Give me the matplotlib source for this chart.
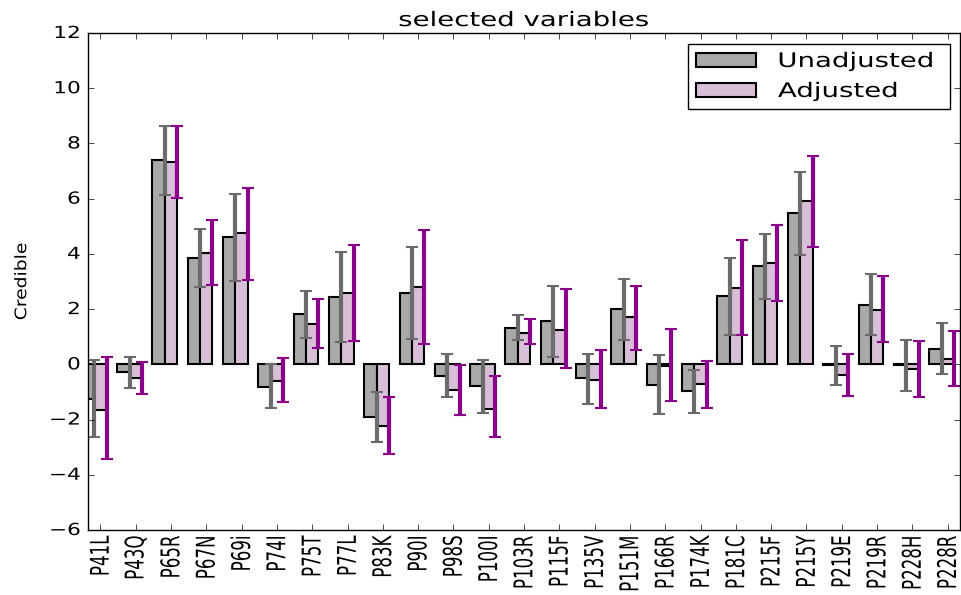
import numpy as np
import matplotlib
matplotlib.use("Agg")
import matplotlib.pyplot as plt
from matplotlib.patheffects import AbstractPathEffect
from matplotlib.transforms import Affine2D

plt.style.use("classic")

# Mutaciones y valores estimados
etiquetas = ["P41L", "P43Q", "P65R", "P67N", "P69i", "P74I", "P75T", "P77L", "P83K",
             "P90I", "P98S", "P100I", "P103R", "P115F", "P135V", "P151M", "P166R",
             "P174K", "P181C", "P215F", "P215Y", "P219E", "P219R", "P228H", "P228R"]

sin_ajuste = [-1.24, -0.29, 7.39, 3.86, 4.60, -0.82, 1.81, 2.44, -1.91,
              2.59, -0.41, -0.79, 1.33, 1.57, -0.51, 2.01, -0.73,
              -0.96, 2.47, 3.56, 5.48, -0.03, 2.16, -0.03, 0.57]
sin_ajuste_inf = [-2.62, -0.86, 6.14, 2.81, 3.01, -1.58, 0.97, 0.80, -2.81,
                  0.92, -1.20, -1.76, 0.88, 0.27, -1.42, 0.89, -1.79,
                  -1.76, 1.07, 2.38, 3.97, -0.75, 1.06, -0.95, -0.34]
sin_ajuste_sup = [0.15, 0.27, 8.63, 4.91, 6.16, 0.00, 2.66, 4.07, -1.01,
                  4.24, 0.39, 0.17, 1.78, 2.85, 0.39, 3.10, 0.33,
                  -0.19, 3.86, 4.73, 6.96, 0.67, 3.27, 0.90, 1.49]

ajustado = [-1.65, -0.51, 7.32, 4.04, 4.76, -0.60, 1.45, 2.60, -2.22,
            2.81, -0.92, -1.61, 1.13, 1.25, -0.56, 1.72, -0.07,
            -0.71, 2.77, 3.67, 5.91, -0.39, 1.98, -0.16, 0.20]
ajustado_inf = [-3.42, -1.06, 6.01, 2.88, 3.07, -1.36, 0.58, 0.83, -3.23,
                0.73, -1.82, -2.63, 0.74, -0.12, -1.58, 0.52, -1.32,
                -1.58, 1.06, 2.30, 4.25, -1.14, 0.80, -1.19, -0.79]
ajustado_sup = [0.27, 0.08, 8.63, 5.23, 6.38, 0.24, 2.38, 4.34, -1.18,
                4.88, -0.03, -0.43, 1.64, 2.72, 0.52, 2.83, 1.29,
                0.11, 4.50, 5.05, 7.55, 0.39, 3.21, 0.85, 1.20]


# Estiramiento horizontal del texto (la imagen original está ensanchada)
class Estirar(AbstractPathEffect):
    def __init__(self, sx=1.38, ancla="center"):
        super().__init__()
        self.sx = sx
        self.ancla = ancla

    def draw_path(self, renderer, gc, tpath, affine, rgbFace=None):
        bb = tpath.get_extents(affine)
        if self.ancla == "right":
            cx = bb.x1
        elif self.ancla == "left":
            cx = bb.x0
        else:
            cx = (bb.x0 + bb.x1) / 2
        t = affine + Affine2D().translate(-cx, 0).scale(self.sx, 1).translate(cx, 0)
        renderer.draw_path(gc, tpath, t, rgbFace)


# Creación de la figura
fig = plt.figure(figsize=(9.61, 5.95), dpi=100, facecolor="white")
ax = fig.add_axes([0.0916, 0.1092, 0.9074, 0.8353])

x = np.arange(len(etiquetas))
ancho = 0.35

s = np.array(sin_ajuste)
a = np.array(ajustado)
err_s = [s - np.array(sin_ajuste_inf), np.array(sin_ajuste_sup) - s]
err_a = [a - np.array(ajustado_inf), np.array(ajustado_sup) - a]

ax.bar(x - ancho, s, ancho, color="#a9a9a9", edgecolor="black", linewidth=1.5, label="Unadjusted")
ax.bar(x, a, ancho, color="#d8bfd8", edgecolor="black", linewidth=1.5, label="Adjusted")
ax.errorbar(x - ancho / 2, s, yerr=err_s, fmt="none", ecolor="#6b6b6b", elinewidth=3,
            capsize=4, capthick=1.5)
ax.errorbar(x + ancho / 2, a, yerr=err_a, fmt="none", ecolor="#8b008b", elinewidth=3,
            capsize=4, capthick=1.5)

# Ejes
ax.set_xlim(-ancho, len(etiquetas) - 1 + ancho)
ax.set_ylim(-6, 12)
ax.set_yticks(np.arange(-6, 13, 2))
ax.set_xticks(x)
ax.set_xticklabels(etiquetas, rotation=90)
ax.tick_params(axis="y", pad=5.5)
plt.setp(ax.get_yticklabels(), path_effects=[Estirar(1.3, "right")])
plt.setp(ax.get_xticklabels(), path_effects=[Estirar(1.55, "center")])

ax.set_ylabel("Credible", fontsize=13.5, path_effects=[Estirar(0.85, "center")])
ax.yaxis.label.set_va("center")
ax.yaxis.set_label_coords(-0.076, 0.5)

ax.set_title("selected variables", fontsize=14.4, path_effects=[Estirar(1.38, "center")])

leyenda = ax.legend(loc="upper right", bbox_to_anchor=(0.688, 0.845, 0.301, 0.133),
                    mode="expand", borderaxespad=0, handlelength=3, handletextpad=1.1,
                    labelspacing=0.55, fontsize=14.4)
for t in leyenda.get_texts():
    t.set_path_effects([Estirar(1.38, "left")])

fig.savefig("out.png", dpi=100, facecolor="white")
